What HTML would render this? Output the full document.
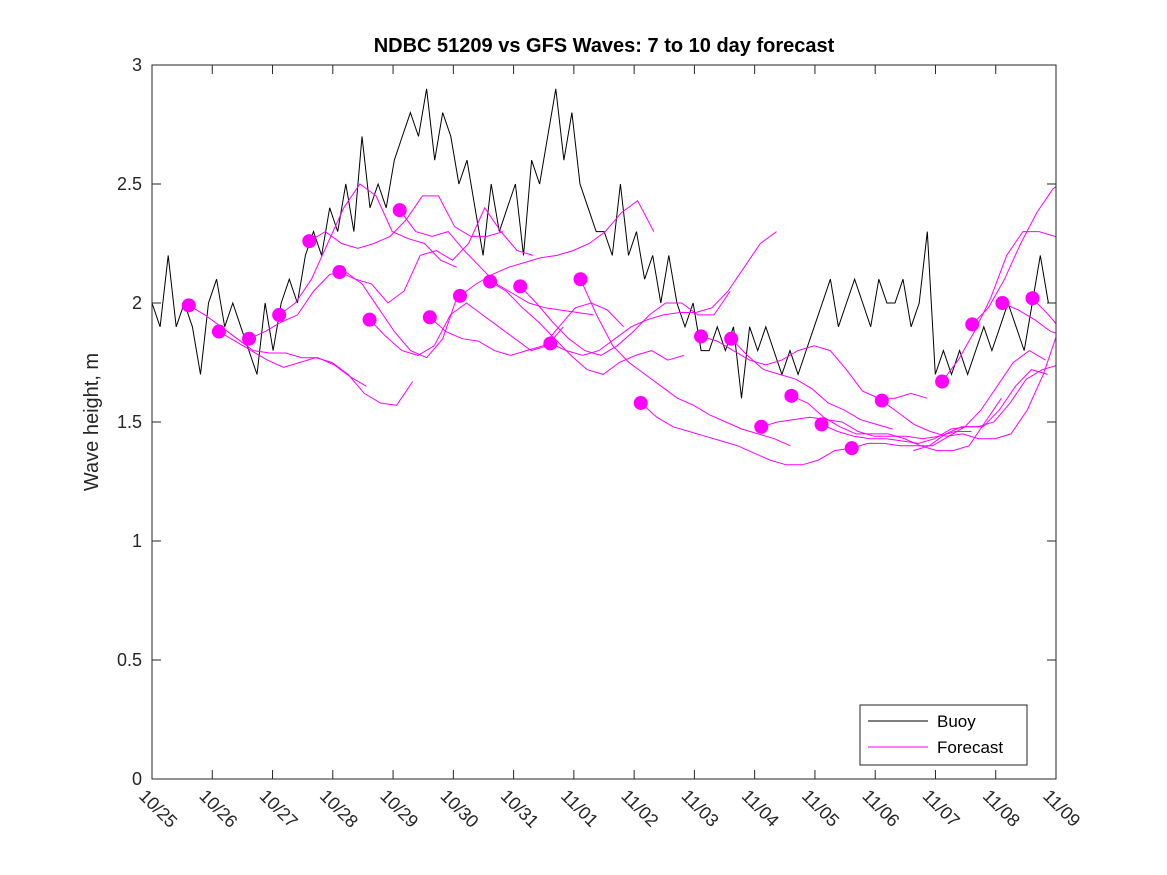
<!DOCTYPE html>
<html><head><meta charset="utf-8"><style>
body{margin:0;background:#fff}
svg{display:block;font-family:"Liberation Sans",sans-serif}
</style></head><body>
<svg id="c" width="1167" height="875"></svg>
<script>
const xTickLabels=["10/25","10/26","10/27","10/28","10/29","10/30","10/31","11/01","11/02","11/03","11/04","11/05","11/06","11/07","11/08","11/09"];
const yTicks=[0,0.5,1,1.5,2,2.5,3];
const buoyStep=0.134;
const buoyValues=[2.0,1.9,2.2,1.9,2.0,1.9,1.7,2.0,
2.1,1.9,2.0,1.9,1.8,1.7,2.0,1.8,
2.0,2.1,2.0,2.2,2.3,2.2,2.4,2.3,
2.5,2.3,2.7,2.4,2.5,2.4,2.6,2.7,
2.8,2.7,2.9,2.6,2.8,2.7,2.5,2.6,
2.4,2.2,2.5,2.3,2.4,2.5,2.2,2.6,
2.5,2.7,2.9,2.6,2.8,2.5,2.4,2.3,
2.3,2.2,2.5,2.2,2.3,2.1,2.2,2.0,
2.2,2.0,1.9,2.0,1.8,1.8,1.9,1.8,
1.9,1.6,1.9,1.8,1.9,1.8,1.7,1.8,
1.7,1.8,1.9,2.0,2.1,1.9,2.0,2.1,
2.0,1.9,2.1,2.0,2.0,2.1,1.9,2.0,
2.3,1.7,1.8,1.7,1.8,1.7,1.8,1.9,
1.8,1.9,2.0,1.9,1.8,2.0,2.2,2.0];
const fcStep=0.268;
const fcStarts=[0.61,1.11,1.61,2.11,2.61,3.11,3.61,4.11,4.61,5.11,5.61,6.11,6.61,7.11,8.11,9.11,9.61,10.11,10.61,11.11,11.61,12.11,12.63,13.11,13.61,14.11,14.61];
const fcDots=[true,true,true,true,true,true,true,true,true,true,true,true,true,true,true,true,true,true,true,true,true,true,false,true,true,true,true];
const fcValues=[
[1.99,1.95,1.90,1.85,1.80,1.79,1.79,1.77,1.77,1.74,1.69,1.65],
[1.88,1.84,1.80,1.76,1.73,1.75,1.77,1.75,1.70,1.62,1.58,1.57,1.67],
[1.85,1.88,1.92,1.95,2.05,2.12,2.13,2.08,1.98,1.88,1.80,1.77,1.85,2.05],
[1.95,2.00,2.10,2.25,2.40,2.50,2.45,2.30,2.27,2.25,2.18,2.15],
[2.26,2.30,2.25,2.23,2.25,2.28,2.35,2.45,2.45,2.32,2.28,2.28,2.30],
[2.13,2.10,2.08,2.00,2.05,2.20,2.22,2.18,2.25,2.40,2.30,2.22,2.20],
[1.93,1.86,1.80,1.78,1.82,1.95,2.00,1.95,1.90,1.85,1.80,1.82,1.90],
[2.39,2.30,2.28,2.30,2.22,2.15,2.08,2.04,2.00,1.98,1.97,1.96,1.95],
[1.94,1.88,1.85,1.84,1.80,1.78,1.80,1.82,1.90,1.98,2.00,1.97,1.90],
[2.03,2.08,2.12,2.15,2.17,2.19,2.20,2.22,2.25,2.30,2.38,2.43,2.30],
[2.09,2.05,1.98,1.92,1.85,1.78,1.72,1.70,1.75,1.78,1.80,1.76,1.78],
[2.07,2.00,1.92,1.85,1.80,1.78,1.82,1.88,1.95,2.00,2.00,1.95,1.95,2.05],
[1.83,1.80,1.78,1.80,1.85,1.90,1.93,1.95,1.96,1.96,1.98,2.05,2.15,2.25,2.30],
[2.10,1.95,1.82,1.75,1.70,1.65,1.60,1.57,1.53,1.50,1.47,1.45,1.43,1.40],
[1.58,1.52,1.48,1.46,1.44,1.42,1.40,1.37,1.34,1.32,1.32,1.34,1.38,1.39],
[1.86,1.84,1.80,1.76,1.74,1.76,1.80,1.82,1.80,1.72,1.63,1.60,1.60,1.62,1.60],
[1.85,1.78,1.72,1.70,1.68,1.64,1.58,1.55,1.51,1.49,1.47],
[1.48,1.50,1.51,1.52,1.51,1.50,1.46,1.44,1.44,1.44,1.43,1.44,1.46,1.46],
[1.61,1.58,1.52,1.48,1.45,1.45,1.45,1.43,1.40,1.38,1.38,1.40,1.50,1.60],
[1.49,1.46,1.44,1.43,1.43,1.42,1.41,1.43,1.47,1.48,1.48,1.55,1.65,1.72,1.70],
[1.39,1.41,1.41,1.40,1.40,1.40,1.44,1.48,1.55,1.65,1.75,1.80,1.76],
[1.59,1.54,1.49,1.46,1.44,1.45,1.43,1.43,1.45,1.55,1.70,1.90,2.10,2.22,2.25,2.22,2.15],
[1.38,1.40,1.45,1.48,1.48,1.50,1.58,1.68,1.72,1.74,1.72,1.68,1.63],
[1.67,1.76,1.88,2.02,2.20,2.30,2.30,2.28,2.22,2.10,2.00,1.95],
[1.91,1.98,2.10,2.25,2.38,2.48,2.53,2.50,2.48,2.46],
[2.00,1.97,1.93,1.88,1.86],
[2.02,1.95,1.87]];
const L=152,R=1056,T=65,B=779;
const xS=d=>L+d*(R-L)/15;
const yS=v=>B-v*(B-T)/3;
const ns="http://www.w3.org/2000/svg";
const svg=document.getElementById('c');
function mk(tag,attrs,parent){const e=document.createElementNS(ns,tag);for(const k in attrs)e.setAttribute(k,attrs[k]);(parent||svg).appendChild(e);return e;}
const defs=mk('defs',{});const cp=mk('clipPath',{id:'pc'},defs);mk('rect',{x:L,y:T,width:R-L,height:B-T},cp);
const plot=mk('g',{'clip-path':'url(#pc)'});


let bp=buoyValues.map((v,i)=>xS(i*buoyStep).toFixed(1)+','+yS(v).toFixed(1)).join(' ');
const bl=mk('polyline',{points:bp,fill:'none',stroke:'#000','stroke-width':1},plot);


fcValues.forEach((vals,j)=>{
  const pts=vals.map((v,i)=>xS(fcStarts[j]+i*fcStep).toFixed(1)+','+yS(v).toFixed(1)).join(' ');
  const pl=mk('polyline',{points:pts,fill:'none',stroke:'#ff00ff','stroke-width':1},plot);
  
  
  if(fcDots[j]){
    const c=mk('circle',{cx:xS(fcStarts[j]),cy:yS(vals[0]),r:7,fill:'#ff00ff'},plot);
    
    
  }
});
const ax=mk('rect',{x:L,y:T,width:R-L,height:B-T,fill:'none',stroke:'#262626','stroke-width':1});


yTicks.forEach(v=>{
  const y=yS(v);
  mk('line',{x1:L,x2:L+9,y1:y,y2:y,stroke:'#262626'});
  mk('line',{x1:R,x2:R-9,y1:y,y2:y,stroke:'#262626'});
  const t=mk('text',{x:L-10,y:y+6,'text-anchor':'end','font-size':18,fill:'#262626'});
  t.textContent=String(v);
  
  
});
xTickLabels.forEach((s,i)=>{
  const x=xS(i);
  mk('line',{x1:x,x2:x,y1:B,y2:B-9,stroke:'#262626'});
  mk('line',{x1:x,x2:x,y1:T,y2:T+9,stroke:'#262626'});
  const t=mk('text',{x:x-14,y:B+18,transform:`rotate(45 ${x-14} ${B+18})`,'font-size':18,fill:'#262626'});
  t.textContent=s;
  
  
});
const ti=mk('text',{x:604,y:52,'text-anchor':'middle','font-size':20,'font-weight':'bold',fill:'#000'});
ti.textContent='NDBC 51209 vs GFS Waves: 7 to 10 day forecast';


const yl=mk('text',{x:98,y:422,'text-anchor':'middle','font-size':20,fill:'#262626',transform:'rotate(-90 98 422)'});
yl.textContent='Wave height, m';


const lg=mk('g',{});


mk('rect',{x:860,y:705,width:167,height:60,fill:'#fff',stroke:'#262626'},lg);
mk('line',{x1:868,x2:928,y1:721,y2:721,stroke:'#000'},lg);
mk('line',{x1:868,x2:928,y1:747,y2:747,stroke:'#ff00ff'},lg);
const t1=mk('text',{x:937,y:727,'font-size':17,fill:'#000'},lg);t1.textContent='Buoy';


const t2=mk('text',{x:937,y:753,'font-size':17,fill:'#000'},lg);t2.textContent='Forecast';


</script>
</body></html>
